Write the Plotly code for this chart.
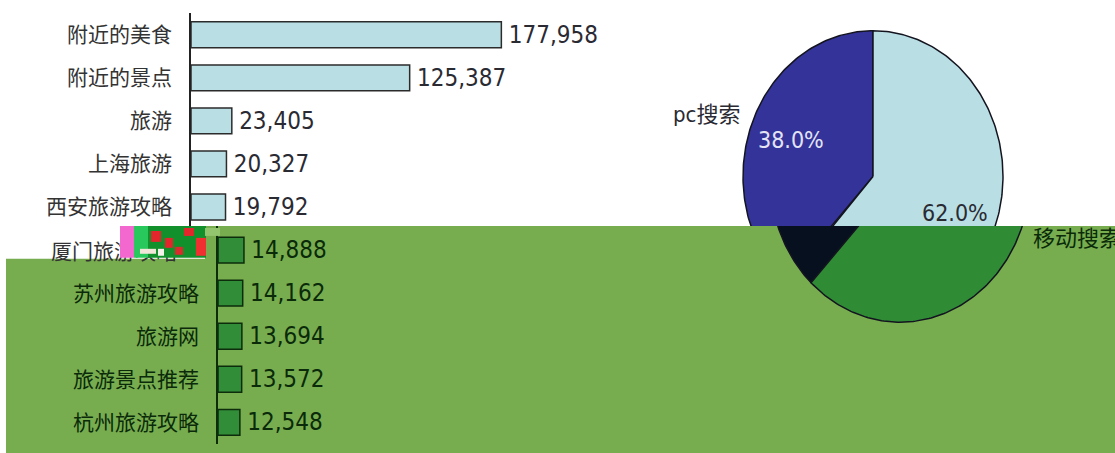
import math
import plotly.graph_objects as go

# Search keywords and their search counts
keywords = ["附近的美食", "附近的景点", "旅游", "上海旅游", "西安旅游攻略",
            "厦门旅游攻略", "苏州旅游攻略", "旅游网", "旅游景点推荐", "杭州旅游攻略"]
searches = [177958, 125387, 23405, 20327, 19792, 14888, 14162, 13694, 13572, 12548]

# Share of searches by device
share_labels = ["pc搜索", "移动搜索"]
share_values = [38.0, 62.0]

W, H = 1115, 453
PX_PER_UNIT = 0.001744      # bar length in px per search
ROW = 43.45                 # px per category row
TOP0 = 9.3                  # top of the category axis
SPLIT = 224                 # where the lower green band starts
SHIFT = 27                  # horizontal offset of the lower band
AXIS_X = 191
CX, CY, RX, RY = 873, 174, 130, 147

LATIN = "DejaVu Sans Condensed, DejaVu Sans, Noto Sans CJK SC"
CJK = "Noto Sans CJK SC, DejaVu Sans"

GREEN_BG = "#77ad4f"
TOP = dict(bar="#b9dfe4", edge="#2b2b2b", text="#2a2a33", pc="#33339a", mob="#b9dfe4",
           pctxt="#e4e4f4", mobtxt="#2a2a33")
LOW = dict(bar="#318d38", edge="#0c2c0c", text="#0a2a0a", pc="#06101e", mob="#2f8c35",
           pctxt="#0a2a0a", mobtxt="#0a2a0a")


def px(x):
    return x / W


def py(y):
    return 1 - y / H


def row_at(ypx):
    return (ypx - TOP0) / ROW - 0.5


in_upper = [TOP0 + ROW * (i + 0.5) < SPLIT for i in range(len(keywords))]

fig = go.Figure()

# Horizontal bars: upper band (x/y) and shifted lower band (x2/y2)
for xa, ya, st, upper in (("x", "y", TOP, True), ("x2", "y2", LOW, False)):
    labels = [f"\u2009{v:,}" if u == upper else "" for v, u in zip(searches, in_upper)]
    fig.add_trace(go.Bar(
        x=searches, y=keywords, orientation="h", xaxis=xa, yaxis=ya, width=0.6,
        marker=dict(color=st["bar"], line=dict(color=st["edge"], width=1.5)),
        text=labels, textposition="outside", constraintext="none",
        textfont=dict(family=LATIN, size=24, color=st["text"]),
        cliponaxis=True, hoverinfo="skip", showlegend=False,
    ))

# helper axis carrying the label of the row that sits on the band edge
fig.add_trace(go.Scatter(x=[0], y=[keywords[5]], xaxis="x", yaxis="y5", mode="markers",
                         marker=dict(opacity=0), hoverinfo="skip", showlegend=False))


def wedges(cx, cy, rx, ry, values):
    total = sum(values)
    start = 90.0
    out = []
    for v in values:
        sweep = 360.0 * v / total
        n = max(12, int(sweep))
        ts = [math.radians(start + sweep * k / n) for k in range(n + 1)]
        xs = [cx] + [cx + rx * math.cos(t) for t in ts] + [cx]
        ys = [cy] + [cy - ry * math.sin(t) for t in ts] + [cy]
        out.append((xs, ys, start + sweep / 2))
        start += sweep
    return out


# Device share pie (elliptical), upper band on x3/y3, shifted lower band on x4/y4
for xa, ya, dx, st in (("x3", "y3", 0, TOP), ("x4", "y4", SHIFT, LOW)):
    for (xs, ys, mid), col in zip(wedges(CX + dx, CY, RX, RY, share_values), (st["pc"], st["mob"])):
        fig.add_trace(go.Scatter(x=xs, y=ys, xaxis=xa, yaxis=ya, mode="lines", fill="toself",
                                 fillcolor=col, line=dict(color="#141420", width=1.5),
                                 hoverinfo="skip", showlegend=False))

# Pie labels, placed from each slice's mid angle
for i, ((_, _, mid), lab, val) in enumerate(zip(wedges(CX, CY, RX, RY, share_values),
                                                 share_labels, share_values)):
    c, s = math.cos(math.radians(mid)), math.sin(math.radians(mid))
    # percentage inside the slice
    yin = CY - 0.68 * RY * s
    st, xa, ya, dx = (TOP, "x3", "y3", 0) if yin < SPLIT else (LOW, "x4", "y4", SHIFT)
    fig.add_annotation(xref=xa, yref=ya, x=CX + dx + 0.68 * RX * c, y=yin,
                       text=f"{val:.1f}%", showarrow=False, xanchor="center", yanchor="middle",
                       font=dict(family=LATIN, size=23,
                                 color=st["pctxt"] if i == 0 else st["mobtxt"]))
    # category name outside the slice
    yout = CY - 1.15 * RY * s
    st, xa, ya, dx = (TOP, "x3", "y3", 0) if yout < SPLIT else (LOW, "x4", "y4", SHIFT)
    fig.add_annotation(xref=xa, yref=ya, x=CX + dx + 1.08 * RX * c, y=yout,
                       text=lab, showarrow=False, xanchor="right" if c < 0 else "left",
                       yanchor="middle", font=dict(family=LATIN, size=22, color=st["text"]))

hidden = dict(visible=False, showgrid=False, zeroline=False)

fig.update_layout(
    width=W, height=H, margin=dict(l=0, r=0, t=0, b=0),
    paper_bgcolor="white", plot_bgcolor="rgba(0,0,0,0)",
    showlegend=False, hovermode=False,
    xaxis=dict(domain=[px(AXIS_X), 1], range=[0, (W - AXIS_X) / PX_PER_UNIT], anchor="y", **hidden),
    yaxis=dict(domain=[py(SPLIT), py(TOP0)], range=[row_at(SPLIT), -0.5], anchor="x",
               showline=True, linecolor="#222222", linewidth=1.5, ticks="", showgrid=False,
               zeroline=False, ticklabelstandoff=13,
               tickfont=dict(family=CJK, size=21, color="#333333")),
    yaxis5=dict(domain=[py(263), py(237)], range=[-0.5, 0.5], anchor="x", showline=False,
                ticks="", showgrid=False, zeroline=False, ticklabelstandoff=13,
                tickfont=dict(family=CJK, size=21, color="#333333")),
    xaxis2=dict(domain=[px(AXIS_X + SHIFT), 1], range=[0, (W - AXIS_X - SHIFT) / PX_PER_UNIT],
                anchor="y2", **hidden),
    yaxis2=dict(domain=[py(TOP0 + 10 * ROW), py(SPLIT)], range=[9.5, row_at(SPLIT)], anchor="x2",
                showline=True, linecolor=LOW["edge"], linewidth=1.5, ticks="", showgrid=False,
                zeroline=False, ticklabelstandoff=13, tickmode="array", tickvals=keywords[6:],
                tickfont=dict(family=CJK, size=21, color=LOW["text"])),
    xaxis3=dict(domain=[0, 1], range=[0, W], anchor="y3", **hidden),
    yaxis3=dict(domain=[py(SPLIT), 1], range=[SPLIT, 0], anchor="x3", **hidden),
    xaxis4=dict(domain=[0, 1], range=[0, W], anchor="y4", **hidden),
    yaxis4=dict(domain=[0, py(SPLIT)], range=[H, SPLIT], anchor="x4", **hidden),
)

# green lower band (with the step on the left)
fig.add_shape(type="rect", xref="paper", yref="paper", layer="below", line_width=0,
              fillcolor=GREEN_BG, x0=px(6), x1=1, y0=0, y1=py(257))
fig.add_shape(type="rect", xref="paper", yref="paper", layer="below", line_width=0,
              fillcolor=GREEN_BG, x0=px(205), x1=1, y0=py(262), y1=py(SPLIT))

# noisy block at the step
blocks = [
    (120, 134, 224, 256, "#f268cf"),
    (134, 148, 224, 256, "#28c85c"),
    (148, 206, 224, 256, "#12902c"),
    (151, 161, 229, 240, "#e3262c"),
    (165, 173, 236, 246, "#e3262c"),
    (184, 194, 226, 234, "#e3262c"),
    (175, 183, 245, 253, "#d92b2b"),
    (196, 206, 236, 254, "#f03030"),
    (140, 156, 247, 252, "#f2e6d8"),
    (158, 164, 247, 254, "#f4f0ea"),
    (205, 220, 226, 234, "#93c46e"),
]
for x0, x1, y0, y1, col in blocks:
    fig.add_shape(type="rect", xref="paper", yref="paper", layer="above", line_width=0,
                  fillcolor=col, x0=px(x0), x1=px(x1), y0=py(y1), y1=py(y0))

fig.write_html("out.html")
